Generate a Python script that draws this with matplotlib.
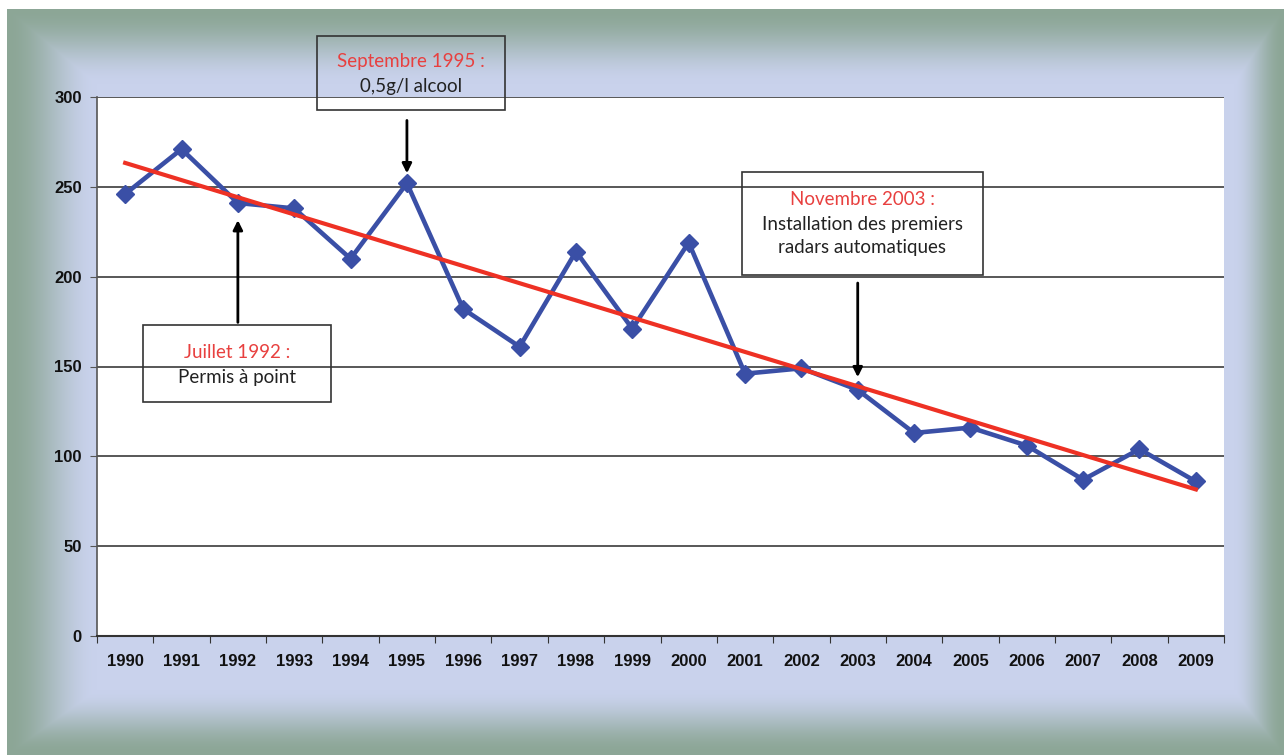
import numpy as np
import matplotlib
matplotlib.use("Agg")
import matplotlib.pyplot as plt
from matplotlib.patches import Rectangle

# ---- data ----
years = [str(y) for y in range(1990, 2010)]
values = [246, 271, 241, 238, 210, 252, 182, 161, 214, 171,
          219, 146, 149, 137, 113, 116, 106, 87, 104, 86]
yticks = [0, 50, 100, 150, 200, 250, 300]

W, H = 1284, 755
fig = plt.figure(figsize=(W / 100, H / 100), dpi=100)

# ---- background gradient frame ----
x0, y0 = 7, 9
yy, xx = np.mgrid[0:H, 0:W].astype(float)
dl = (xx - x0) / 90.0
dr = (W - 1 - xx) / 50.0
dt = (yy - y0) / 75.0
db = (H - 1 - yy) / 65.0
d = np.minimum(np.minimum(dl, dr), np.minimum(dt, db))
t = np.clip(d, 0, 1)
t = t * t * (3 - 2 * t)
edge = np.array([140, 166, 150]) / 255.0
center = np.array([201, 210, 236]) / 255.0
img = edge[None, None, :] * (1 - t[..., None]) + center[None, None, :] * t[..., None]
outside = (xx < x0) | (yy < y0)
img[outside] = 1.0
bg = fig.add_axes([0, 0, 1, 1], zorder=-1)
bg.imshow(img, aspect="auto", interpolation="bilinear")
bg.axis("off")

# ---- axes ----
ax = fig.add_axes([97 / W, 1 - 636 / H, (1224 - 97) / W, (636 - 97) / H], zorder=1)
ax.set_facecolor("white")
x = np.arange(len(years))

ax.set_xlim(-0.5, len(years) - 0.5)
ax.set_ylim(0, 300)
ax.set_yticks(yticks)
ax.yaxis.grid(True, color="#2a2a2a", lw=1.1)
ax.set_axisbelow(True)

for s in ["top", "right"]:
    ax.spines[s].set_visible(False)
ax.spines["left"].set_color("#555555")
ax.spines["bottom"].set_color("#333333")
ax.spines["left"].set_linewidth(1.2)
ax.spines["bottom"].set_linewidth(1.5)

# x ticks: marks at category boundaries, labels at centers
ax.set_xticks(np.arange(-0.5, len(years)), labels=[""] * (len(years) + 1))
ax.set_xticks(x, labels=years, minor=True)
ax.tick_params(axis="x", which="major", direction="out", length=5, color="#333333")
ax.tick_params(axis="x", which="minor", length=0, pad=13)
ax.tick_params(axis="y", direction="out", length=5, color="#555555", pad=6)
for lab in ax.get_xticklabels(minor=True) + ax.get_yticklabels():
    lab.set_fontfamily(["Liberation Sans", "DejaVu Sans"])
    lab.set_fontweight("bold")
    lab.set_fontsize(12)
    lab.set_color("#111111")

# data line
ax.plot(x, values, color="#3a4fa6", lw=3.3, marker="D", ms=9.5,
        markeredgecolor="#3a4fa6", zorder=3)

# trend line (least squares)
coef = np.polyfit(x, values, 1)
ax.plot(x, np.polyval(coef, x), color="#ee3124", lw=3.0, zorder=4)

# ---- annotations ----
afont = ["Lato", "DejaVu Sans"]
fs = 13.5
red = "#e8403f"
txtc = "#222222"

def box(xa, xb, ya, yb):
    ax.add_patch(Rectangle((xa, yb), xb - xa, ya - yb, fill=False,
                           ec="#333333", lw=1.2, clip_on=False, zorder=5))

# Septembre 1995
box(3.41, 6.74, 334, 292.7)
ax.text(5.08, 320, "Septembre 1995 :", color=red, fontsize=fs, family=afont,
        ha="center", va="center", clip_on=False)
ax.text(5.08, 306, "0,5g/l alcool", color=txtc, fontsize=fs, family=afont,
        ha="center", va="center", clip_on=False)
ax.annotate("", xy=(5, 256), xytext=(5, 288.5), annotation_clip=False,
            arrowprops=dict(arrowstyle="-|>", color="black", lw=2, mutation_scale=14))

# Juillet 1992
box(0.32, 3.66, 173, 130)
ax.text(1.99, 158, "Juillet 1992 :", color=red, fontsize=fs, family=afont,
        ha="center", va="center")
ax.text(1.99, 144, "Permis à point", color=txtc, fontsize=fs, family=afont,
        ha="center", va="center")
ax.annotate("", xy=(2, 233), xytext=(2, 173),
            arrowprops=dict(arrowstyle="-|>", color="black", lw=2, mutation_scale=14))

# Novembre 2003
box(10.95, 15.23, 258, 201)
ax.text(13.08, 243, "Novembre 2003 :", color=red, fontsize=fs, family=afont,
        ha="center", va="center")
ax.text(13.08, 229, "Installation des premiers", color=txtc, fontsize=fs,
        family=afont, ha="center", va="center")
ax.text(13.08, 216, "radars automatiques", color=txtc, fontsize=fs,
        family=afont, ha="center", va="center")
ax.annotate("", xy=(13, 142.5), xytext=(13, 198),
            arrowprops=dict(arrowstyle="-|>", color="black", lw=2, mutation_scale=14))

fig.savefig("out.png", dpi=100)
